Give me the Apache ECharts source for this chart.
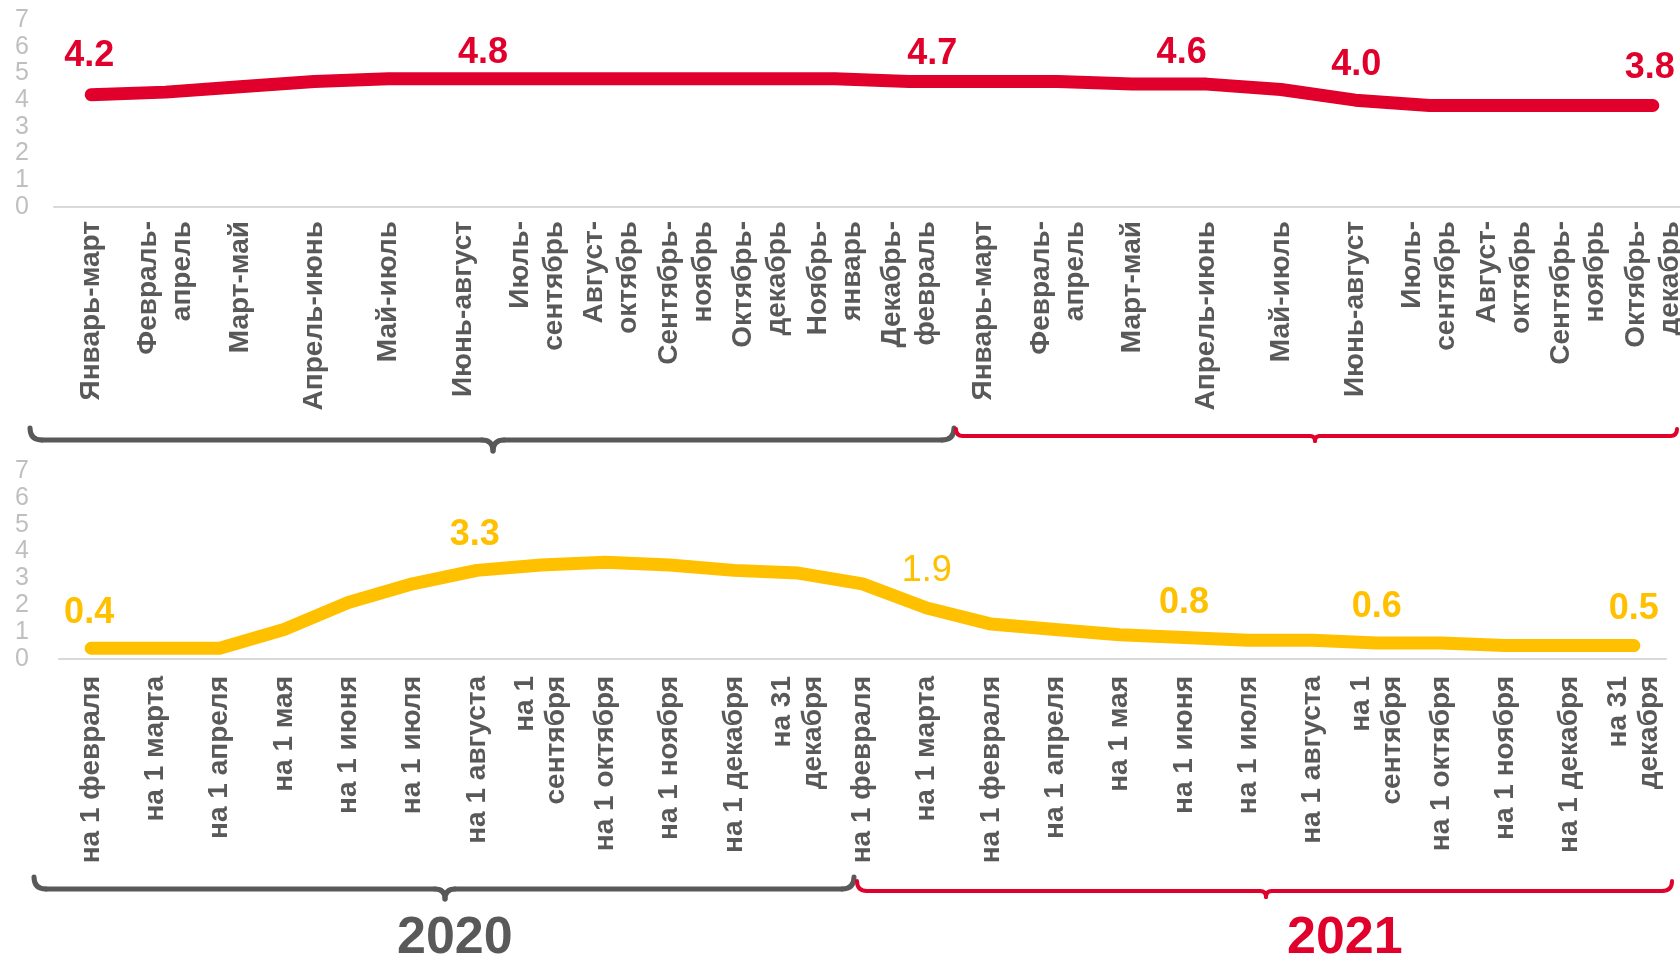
<!DOCTYPE html>
<html>
<head>
<meta charset="utf-8">
<title>chart</title>
<script src="https://cdn.jsdelivr.net/npm/echarts/dist/echarts.min.js"></script>
<style>
html, body { margin: 0; padding: 0; background: #fff; }
#main { width: 1680px; height: 957px; }
</style>
</head>
<body>
<div id="main"></div>
<script>
// верхний график: скользящие трёхмесячные периоды
const topCategories = [
    'Январь-март', 'Февраль-\nапрель', 'Март-май', 'Апрель-июнь', 'Май-июль', 'Июнь-август',
    'Июль-\nсентябрь', 'Август-\nоктябрь', 'Сентябрь-\nноябрь', 'Октябрь-\nдекабрь', 'Ноябрь-\nянварь', 'Декабрь-\nфевраль',
    'Январь-март', 'Февраль-\nапрель', 'Март-май', 'Апрель-июнь', 'Май-июль', 'Июнь-август',
    'Июль-\nсентябрь', 'Август-\nоктябрь', 'Сентябрь-\nноябрь', 'Октябрь-\nдекабрь'
];
const topValues = [4.2, 4.3, 4.5, 4.7, 4.8, 4.8, 4.8, 4.8, 4.8, 4.8, 4.8, 4.7,
    4.7, 4.7, 4.6, 4.6, 4.4, 4.0, 3.8, 3.8, 3.8, 3.8];
const topLabelIdx = [0, 5, 11, 15, 17, 21];

// нижний график: на дату
const bottomCategories = [
    'на 1 февраля', 'на 1 марта', 'на 1 апреля', 'на 1 мая', 'на 1 июня', 'на 1 июля',
    'на 1 августа', 'на 1\nсентября', 'на 1 октября', 'на 1 ноября', 'на 1 декабря', 'на 31\nдекабря',
    'на 1 февраля', 'на 1 марта', 'на 1 февраля', 'на 1 апреля', 'на 1 мая', 'на 1 июня', 'на 1 июля',
    'на 1 августа', 'на 1\nсентября', 'на 1 октября', 'на 1 ноября', 'на 1 декабря', 'на 31\nдекабря'
];
const bottomValues = [0.4, 0.4, 0.4, 1.1, 2.1, 2.8, 3.3, 3.5, 3.6, 3.5, 3.3, 3.2,
    2.8, 1.9, 1.3, 1.1, 0.9, 0.8, 0.7, 0.7, 0.6, 0.6, 0.5, 0.5, 0.5];
const bottomLabelIdx = [0, 6, 13, 17, 20, 24];

const years = ['2020', '2021'];

const RED = '#E0002B';
const YELLOW = '#FFC000';
const GREY = '#595959';
const FONT = '"Liberation Sans", Arial, sans-serif';

// сдвиги подписей значений (как в оригинале)
const topShift = { 0: [-2, -20], 5: [20, -7], 11: [23, -9], 15: [-25, -13], 17: [1, -17], 21: [-3, -19] };
const bottomShift = { 0: [-2, -17], 6: [-2, -17], 13: [0, -18], 17: [0, -16], 20: [0, -17], 24: [0, -18] };

function buildData (values, idxs, shifts, thin) {
    return values.map((v, i) => {
        if (idxs.indexOf(i) < 0) return v;
        return {
            value: v,
            label: {
                show: true,
                offset: shifts[i],
                fontWeight: thin.indexOf(i) >= 0 ? 'normal' : 'bold'
            }
        };
    });
}

function yAxis (gridIndex, margin) {
    return {
        type: 'value', gridIndex: gridIndex, min: 0, max: 7, interval: 1,
        axisLine: { show: false }, axisTick: { show: false }, splitLine: { show: false },
        axisLabel: { color: '#BFBFBF', fontSize: 25, fontFamily: FONT, margin: margin }
    };
}

function xAxis (gridIndex, data, lineHeight, margin) {
    return {
        type: 'category', gridIndex: gridIndex, data: data,
        axisLine: { lineStyle: { color: '#D9D9D9', width: 2 } },
        axisTick: { show: false },
        axisLabel: {
            interval: 0, rotate: 90, color: GREY, fontSize: 28, fontWeight: 'bold',
            fontFamily: FONT, lineHeight: lineHeight, margin: margin
        }
    };
}

function lineSeries (idx, data, color) {
    return {
        type: 'line', xAxisIndex: idx, yAxisIndex: idx, data: data,
        symbol: 'circle', symbolSize: 1, silent: true,
        lineStyle: { width: 13, color: color, cap: 'round', join: 'round' },
        itemStyle: { color: color },
        label: {
            show: false, position: 'top', distance: 0, color: color,
            fontSize: 36, fontFamily: FONT,
            formatter: (p) => p.value.toFixed(1)
        }
    };
}

// фигурная скобка: концы загнуты вверх (h), в середине острие вниз (t)
function brace (x1, x2, xm, y, h, t, color, width) {
    const style = { stroke: color, lineWidth: width, fill: null, lineCap: 'round' };
    const r = h;
    const q = (a, b, c, d, e, f) => ({ type: 'bezierCurve', silent: true, shape: { x1: a, y1: b, cpx1: c, cpy1: d, x2: e, y2: f }, style: style });
    const l = (a, b) => ({ type: 'line', silent: true, shape: { x1: a, y1: y, x2: b, y2: y }, style: style });
    return [
        q(x1, y - h, x1, y, x1 + r, y),
        l(x1 + r, xm - t),
        q(xm - t, y, xm, y, xm, y + t),
        q(xm, y + t, xm, y, xm + t, y),
        l(xm + t, x2 - r),
        q(x2 - r, y, x2, y, x2, y - h)
    ];
}

let myChart = echarts.init(document.getElementById('main'));
myChart.setOption({
    animation: false,
    grid: [
        { left: 54, top: 20, width: 1636, height: 187, outerBoundsMode: 'none' },
        { left: 59, top: 471, width: 1607, height: 188, outerBoundsMode: 'none' }
    ],
    xAxis: [xAxis(0, topCategories, 34, 14), xAxis(1, bottomCategories, 31, 17)],
    yAxis: [yAxis(0, 25), yAxis(1, 30)],
    series: [
        lineSeries(0, buildData(topValues, topLabelIdx, topShift, []), RED),
        lineSeries(1, buildData(bottomValues, bottomLabelIdx, bottomShift, [13]), YELLOW)
    ],
    graphic: [].concat(
        brace(30, 954, 493, 440, 12, 11, GREY, 5),
        brace(956, 1677, 1315, 436, 7, 5, RED, 4),
        brace(34, 854, 445, 889, 12, 10, GREY, 5),
        brace(857, 1672, 1266, 891, 10, 6, RED, 4),
        [
            { type: 'text', left: 455 - 58, top: 913, style: { text: years[0], fill: GREY, font: 'bold 52px ' + FONT } },
            { type: 'text', left: 1345 - 58, top: 913, style: { text: years[1], fill: RED, font: 'bold 52px ' + FONT } }
        ]
    )
});
</script>
</body>
</html>
